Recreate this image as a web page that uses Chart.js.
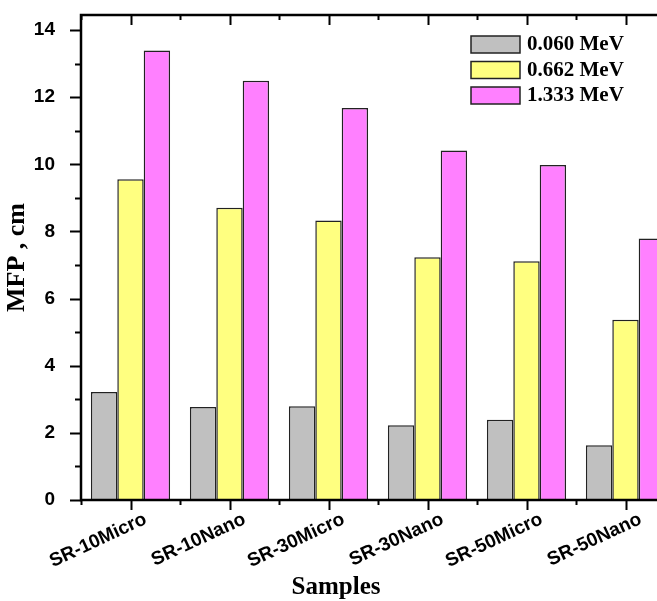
<!DOCTYPE html>
<html>
<head>
<meta charset="utf-8">
<script src="https://cdn.jsdelivr.net/npm/chart.js@4.4.1/dist/chart.umd.min.js"></script>
<style>
  html, body { margin: 0; padding: 0; background: #fff; overflow: hidden; }
  #wrap { width: 680px; height: 601px; position: relative; }
</style>
</head>
<body>
<div id="wrap"><canvas id="mfpChart"></canvas></div>
<script>
const samples = ['SR-10Micro', 'SR-10Nano', 'SR-30Micro', 'SR-30Nano', 'SR-50Micro', 'SR-50Nano'];
const energyLabels = ['0.060 MeV', '0.662 MeV', '1.333 MeV'];
const mfp060 = [3.22, 2.77, 2.79, 2.23, 2.39, 1.63];
const mfp662 = [9.56, 8.71, 8.33, 7.23, 7.11, 5.37];
const mfp1333 = [13.39, 12.49, 11.68, 10.41, 9.98, 7.79];
const barColors = ['#c0c0c0', '#ffff80', '#ff80ff'];
const xTitle = 'Samples';

const sansBold = { family: '"Liberation Sans", Arial, sans-serif', weight: 'bold' };
const serifBold = { family: '"Liberation Serif", "Times New Roman", serif', weight: 'bold' };

// frame, ticks on all four sides, x title and the legend box
const framePlugin = {
    id: 'frame',
    afterDraw(chart) {
        const { ctx, chartArea: { left, right, top, bottom }, scales: { x, y } } = chart;
        ctx.save();
        ctx.strokeStyle = '#000';
        ctx.lineWidth = 2;
        // y ticks, major every 2, minor every 1
        for (let v = 0; v <= 14; v++) {
            const py = Math.round(y.getPixelForValue(v)) + 0.5;
            const major = v % 2 === 0;
            ctx.beginPath();
            ctx.moveTo(left - (major ? 11 : 6), py);
            ctx.lineTo(left, py);
            ctx.moveTo(right - (major ? 12 : 6), py);
            ctx.lineTo(right, py);
            ctx.stroke();
        }
        const step = (right - left) / samples.length;
        samples.forEach((s, i) => {
            const px = Math.round(x.getPixelForValue(i)) + 0.5;
            ctx.beginPath();
            ctx.moveTo(px, bottom);
            ctx.lineTo(px, bottom + 10);
            ctx.moveTo(px, top);
            ctx.lineTo(px, top + 10);
            ctx.stroke();
        });
        for (let i = 0; i <= samples.length; i++) {
            const px = Math.round(left + i * step) + 0.5;
            ctx.beginPath();
            ctx.moveTo(px, bottom);
            ctx.lineTo(px, bottom + 5);
            ctx.moveTo(px, top);
            ctx.lineTo(px, top + 5);
            ctx.stroke();
        }
        ctx.lineWidth = 2.5;
        ctx.strokeRect(left, top, right - left, bottom - top);

        // x axis title
        ctx.fillStyle = '#000';
        ctx.font = 'bold 25px "Liberation Serif", "Times New Roman", serif';
        ctx.textAlign = 'center';
        ctx.textBaseline = 'middle';
        ctx.fillText(xTitle, 336, 588);

        // legend
        ctx.font = 'bold 21px "Liberation Serif", "Times New Roman", serif';
        ctx.textAlign = 'left';
        chart.data.datasets.forEach((ds, i) => {
            const by = 36 + i * 25.5;
            ctx.fillStyle = ds.backgroundColor;
            ctx.fillRect(471, by, 49, 17);
            ctx.lineWidth = 1.5;
            ctx.strokeStyle = '#222';
            ctx.strokeRect(471, by, 49, 17);
            ctx.fillStyle = '#000';
            ctx.fillText(ds.label, 527, by + 9);
        });
        ctx.restore();
    }
};

const datasets = [mfp060, mfp662, mfp1333].map((vals, i) => ({
    label: energyLabels[i],
    data: vals,
    backgroundColor: barColors[i],
    borderColor: '#222',
    borderWidth: 1.5,
    borderSkipped: 'bottom',
    barPercentage: 1.0,
    categoryPercentage: 0.8
}));

new Chart(document.getElementById('mfpChart'), {
    type: 'bar',
    data: { labels: samples, datasets: datasets },
    plugins: [framePlugin],
    options: {
        responsive: true,
        maintainAspectRatio: false,
        devicePixelRatio: 1,
        animation: false,
        layout: { padding: { left: 0, right: 5, top: 15, bottom: 0 } },
        plugins: {
            legend: { display: false },
            tooltip: { enabled: false }
        },
        scales: {
            x: {
                grid: { display: false },
                border: { display: false },
                ticks: {
                    color: '#000',
                    font: { ...sansBold, size: 19 },
                    minRotation: 25,
                    maxRotation: 25,
                    autoSkip: false,
                    labelOffset: 15,
                    padding: 0
                },
                title: { display: false },
                afterFit(scale) { scale.height = 101; }
            },
            y: {
                min: 0,
                max: 14.45,
                grid: { display: false },
                border: { display: false },
                ticks: {
                    stepSize: 2,
                    includeBounds: false,
                    color: '#000',
                    font: { ...sansBold, size: 19 },
                    padding: 18
                },
                title: {
                    display: true,
                    text: 'MFP , cm',
                    color: '#000',
                    font: { ...serifBold, size: 26 },
                    padding: { top: 2, bottom: 0 }
                },
                afterFit(scale) {
                    scale.width = 81;
                    scale.paddingTop = 0;
                    scale.paddingBottom = 0;
                }
            }
        }
    }
});
</script>
</body>
</html>
